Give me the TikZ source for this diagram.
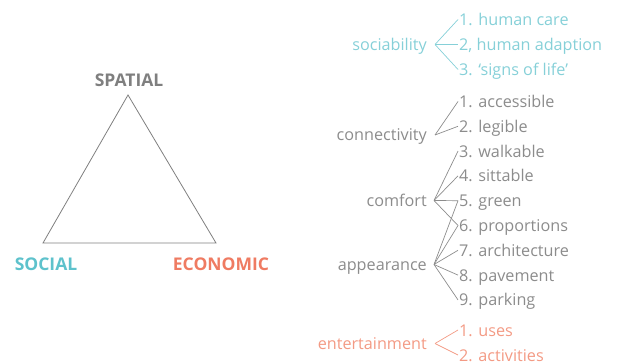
\documentclass[tikz,border=0pt]{standalone}
\usepackage{fontspec}
\setmainfont{Open Sans}
\usepackage{tikz}
\usetikzlibrary{positioning}

\definecolor{socblue}{HTML}{5EC2CC}
\definecolor{soclight}{HTML}{86D0D8}
\definecolor{spagray}{HTML}{7F7F7F}
\definecolor{itemgray}{HTML}{8C8C8C}
\definecolor{ecored}{HTML}{EF7B62}
\definecolor{ecolight}{HTML}{F39A84}

\tikzset{
  corner/.style={font=\fontsize{17.5}{17.5}\selectfont\bfseries, inner sep=1pt},
  crit/.style={anchor=east, inner sep=1pt, text height=15pt, text depth=3pt, font=\fontsize{16.2}{16.2}\selectfont},
  item/.style={anchor=west, inner sep=1pt, text height=15pt, text depth=3pt, font=\fontsize{16.2}{16.2}\selectfont},
  branch/.style={line width=0.7pt}
}

\begin{document}
\begin{tikzpicture}[x=1pt, y=-1pt]
  \useasboundingbox (0,0) rectangle (620,363);

  % triangle
  \coordinate (top) at (128,95);
  \coordinate (left) at (43,243);
  \coordinate (right) at (216,243);
  \draw[spagray, line width=0.8pt] (top) -- (left) -- (right) -- cycle;
  \node[corner, text=spagray] (spatial) at (129,80) {SPATIAL};
  \node[corner, text=socblue] (social) at (46,264) {SOCIAL};
  \node[corner, text=ecored] (economic) at (221,264) {ECONOMIC};

  % sociability
  \node[crit, text=soclight] (sociab) at (428,44.5) {sociability};
  \node[item, text=soclight] (s1) at (458,19.5) {1. human care};
  \node[item, text=soclight] (s2) at (458,44.5) {2, human adaption};
  \node[item, text=soclight] (s3) at (458,69.5) {3. ‘signs of life’};
  \coordinate (sociab-v) at (435,44.5);
  \path[draw=soclight, branch]
  (sociab-v) edge (s1.west)
  (sociab-v) edge (s2.west)
  (sociab-v) edge (s3.west)
  ;

  % spatial criteria
  \node[crit, text=itemgray] (connect) at (428,135) {connectivity};
  \node[crit, text=itemgray] (comfort) at (428,200.5) {comfort};
  \node[crit, text=itemgray] (appear) at (428,264.5) {appearance};
  \node[item, text=itemgray] (p1) at (458,101.5) {1. accessible};
  \node[item, text=itemgray] (p2) at (458,126.3) {2. legible};
  \node[item, text=itemgray] (p3) at (458,151.1) {3. walkable};
  \node[item, text=itemgray] (p4) at (458,175.9) {4. sittable};
  \node[item, text=itemgray] (p5) at (458,200.7) {5. green};
  \node[item, text=itemgray] (p6) at (458,225.5) {6. proportions};
  \node[item, text=itemgray] (p7) at (458,250.3) {7. architecture};
  \node[item, text=itemgray] (p8) at (458,275.1) {8. pavement};
  \node[item, text=itemgray] (p9) at (458,299.9) {9. parking};
  \coordinate (connect-v) at (435,135);
  \coordinate (comfort-v) at (434,200.5);
  \coordinate (appear-v) at (434,264.5);
  \path[draw=itemgray, branch]
  (connect-v) edge (p1.west)
  (connect-v) edge (p2.west)
  (comfort-v) edge (p3.west)
  (comfort-v) edge (p4.west)
  (comfort-v) edge (p5.west)
  (comfort-v) edge (p6.west)
  (appear-v) edge (p5.west)
  (appear-v) edge (p6.west)
  (appear-v) edge (p7.west)
  (appear-v) edge (p8.west)
  (appear-v) edge (p9.west)
  ;

  % entertainment
  \node[crit, text=ecolight] (entert) at (428,343.5) {entertainment};
  \node[item, text=ecolight] (e1) at (458,330) {1. uses};
  \node[item, text=ecolight] (e2) at (458,355) {2. activities};
  \coordinate (entert-v) at (435,343.5);
  \path[draw=ecolight, branch]
  (entert-v) edge (e1.west)
  (entert-v) edge (e2.west)
  ;
\end{tikzpicture}
\end{document}
